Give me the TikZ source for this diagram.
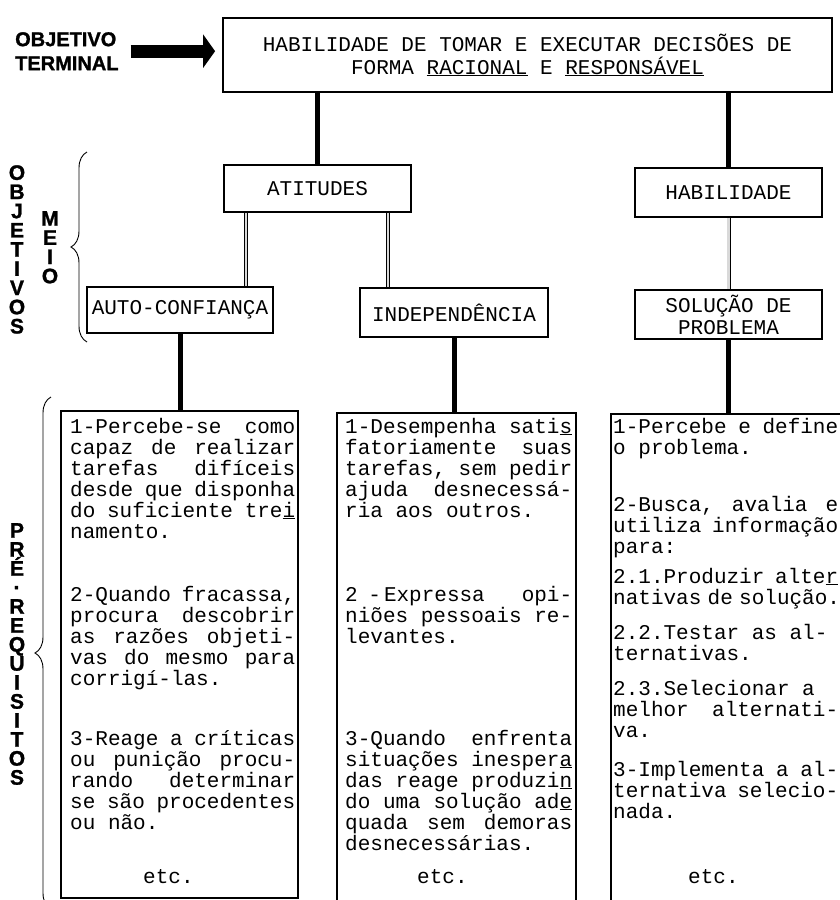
\documentclass[tikz,border=0pt]{standalone}
\usepackage{fontspec}
\setmainfont{Liberation Serif}
\newfontfamily\monof{Liberation Mono}
\newfontfamily\labf{Liberation Sans Bold}[FakeBold=1.2]
\usetikzlibrary{arrows.meta,decorations.pathreplacing}
\frenchspacing
\newcommand\jline[2]{\hbox to #1{\spaceskip=0.6em plus 1fil minus 0.3em\relax #2}}
\begin{document}
\begin{tikzpicture}[x=1pt,y=-1pt,
  box/.style={draw, line width=1.8pt, rectangle, inner sep=0pt, font=\monof\fontsize{21}{23}\selectfont, align=center},
  prebox/.style={draw, line width=2pt, rectangle, inner sep=0pt, anchor=north west},
  tl/.style={anchor=base west, inner sep=0pt, font=\monof\fontsize{21}{21}\selectfont},
  conn/.style={line width=5pt},
  thinconn/.style={line width=0.9pt, double=gray!30, double distance=2.2pt},
  lab/.style={inner sep=0pt, font=\labf\fontsize{20}{24}\selectfont, align=left},
  vlab/.style={inner sep=0pt, anchor=north, font=\labf\fontsize{21}{19.2}\selectfont, align=center},
  brc/.style={decorate, decoration={brace, amplitude=16pt, aspect=0.5}, line width=0.9pt}]
\fill[white] (0,0) rectangle (840,900);
\useasboundingbox (0,0) rectangle (840,900);

% top
\node[box, minimum width=609pt, minimum height=74pt] (top) at (527.5,55)
  {HABILIDADE DE TOMAR E EXECUTAR DECISÕES DE\\FORMA \underline{RACIONAL} E \underline{RESPONSÁVEL}};
\node[lab, anchor=north west] (term) at (15,32) {OBJETIVO\\TERMINAL};
\draw[line width=13pt, -{Triangle[length=12pt,width=33pt]}, shorten <=12pt, shorten >=7pt]
  (term.east) -- (term.east -| top.west);

% side labels
\node[vlab] (obj) at (17,165) {O\\B\\J\\E\\T\\I\\V\\O\\S};
\node[vlab] (meio) at (50,211) {M\\E\\I\\O};
\node[vlab, font=\labf\fontsize{21}{19}\selectfont] (pre) at (17,523) {P\\R\\É\\·\\R\\E\\Q\\U\\I\\S\\I\\T\\O\\S};
\draw[brc] (87,342) -- (87,152);
\draw[brc] (51,909) -- (51,397);

% middle boxes
\node[box, minimum width=187pt, minimum height=47pt] (atit) at (317.5,188.5) {ATITUDES};
\node[box, minimum width=187pt, minimum height=49pt] (habil) at (728.5,192.5) {HABILIDADE};
\node[box, minimum width=186pt, minimum height=46pt] (auto) at (180,310) {AUTO-CONFIANÇA};
\node[box, minimum width=188pt, minimum height=49pt] (indep) at (454,312.5) {INDEPENDÊNCIA};
\node[box, minimum width=187pt, minimum height=49pt, font=\monof\fontsize{21}{22}\selectfont] (sol) at (728.5,314.5) {SOLUÇÃO DE\\PROBLEMA};

% prerequisite boxes
\node[prebox, minimum width=237pt, minimum height=487pt] (p1) at (60,410) {};
\node[prebox, minimum width=239pt, minimum height=510pt] (p2) at (336,412) {};
\node[prebox, minimum width=250pt, minimum height=510pt] (p3) at (610,413) {};

% connectors
\draw[conn] (top.south -| atit.north) -- (atit.north);
\draw[conn] (top.south -| habil.north) -- (habil.north);
\draw[thinconn] ([xshift=23pt]atit.south west) -- ([xshift=23pt]atit.south west |- auto.north);
\draw[thinconn] ([xshift=-24pt]atit.south east) -- ([xshift=-24pt]atit.south east |- indep.north);
\draw[thinconn] (habil.south) -- (sol.north);
\draw[conn] (auto.south) -- (auto.south |- p1.north);
\draw[conn] (indep.south) -- (indep.south |- p2.north);
\draw[conn] (sol.south) -- (sol.south |- p3.north);

% left column text
\node[tl] (a1) at (70,433) {\jline{225pt}{1-Percebe-se como}};
\node[tl] (a2) at (70,454) {\jline{225pt}{capaz de realizar}};
\node[tl] (a3) at (70,475) {\jline{225pt}{tarefas difíceis}};
\node[tl] (a4) at (70,496) {\jline{225pt}{desde que disponha}};
\node[tl] (a5) at (70,517) {\jline{225pt}{do suficiente tre\underline{i}}};
\node[tl] (a6) at (70,538) {namento.};
\node[tl] (a7) at (70,601) {\jline{225pt}{2-Quando fracassa,}};
\node[tl] (a8) at (70,622) {\jline{225pt}{procura descobrir}};
\node[tl] (a9) at (70,643) {\jline{225pt}{as razões objeti-}};
\node[tl] (a10) at (70,664) {\jline{225pt}{vas do mesmo para}};
\node[tl] (a11) at (70,685) {corrigí-las.};
\node[tl] (a12) at (70,745) {\jline{225pt}{3-Reage a críticas}};
\node[tl] (a13) at (70,766) {\jline{225pt}{ou punição procu-}};
\node[tl] (a14) at (70,787) {\jline{225pt}{rando determinar}};
\node[tl] (a15) at (70,808) {\jline{225pt}{se são procedentes}};
\node[tl] (a16) at (70,829) {ou não.};
\node[tl] (a17) at (143,883) {etc.};

% middle column text
\node[tl] (b1) at (345,433) {\jline{227pt}{1-Desempenha sati\underline{s}}};
\node[tl] (b2) at (345,454) {\jline{227pt}{fatoriamente suas}};
\node[tl] (b3) at (345,475) {\jline{227pt}{tarefas, sem pedir}};
\node[tl] (b4) at (345,496) {\jline{227pt}{ajuda desnecessá-}};
\node[tl] (b5) at (345,517) {ria aos outros.};
\node[tl] (b6) at (345,601) {\jline{227pt}{2\kern0.5em-\kern0.15em Expressa opi-}};
\node[tl] (b7) at (345,622) {\jline{227pt}{niões pessoais re-}};
\node[tl] (b8) at (345,643) {levantes.};
\node[tl] (b9) at (345,745) {\jline{227pt}{3-Quando enfrenta}};
\node[tl] (b10) at (345,766) {\jline{227pt}{situações inesper\underline{a}}};
\node[tl] (b11) at (345,787) {\jline{227pt}{das reage produzi\underline{n}}};
\node[tl] (b12) at (345,808) {\jline{227pt}{do uma solução ad\underline{e}}};
\node[tl] (b13) at (345,829) {\jline{227pt}{quada sem demoras}};
\node[tl] (b14) at (345,850) {desnecessárias.};
\node[tl] (b15) at (417,883) {etc.};

% right column text
\node[tl] (c1) at (613,433) {\jline{225pt}{1-Percebe e define}};
\node[tl] (c2) at (613,454) {o problema.};
\node[tl] (c3) at (613,511) {\jline{225pt}{2-Busca, avalia e}};
\node[tl] (c4) at (613,532) {\jline{225pt}{utiliza informação}};
\node[tl] (c5) at (613,553) {para:};
\node[tl] (c6) at (613,583) {\jline{225pt}{2.1.Produzir alte\underline{r}}};
\node[tl] (c7) at (613,604) {\jline{225pt}{nativas de solução.}};
\node[tl] (c8) at (613,639) {2.2.Testar as al-};
\node[tl] (c9) at (613,660) {ternativas.};
\node[tl] (c10) at (613,695) {2.3.Selecionar a};
\node[tl] (c11) at (613,716) {\jline{225pt}{melhor alternati-}};
\node[tl] (c12) at (613,737) {va.};
\node[tl] (c13) at (613,776) {\jline{225pt}{3-Implementa a al-}};
\node[tl] (c14) at (613,797) {\jline{225pt}{ternativa selecio-}};
\node[tl] (c15) at (613,818) {nada.};
\node[tl] (c16) at (688,883) {etc.};
\end{tikzpicture}
\end{document}
